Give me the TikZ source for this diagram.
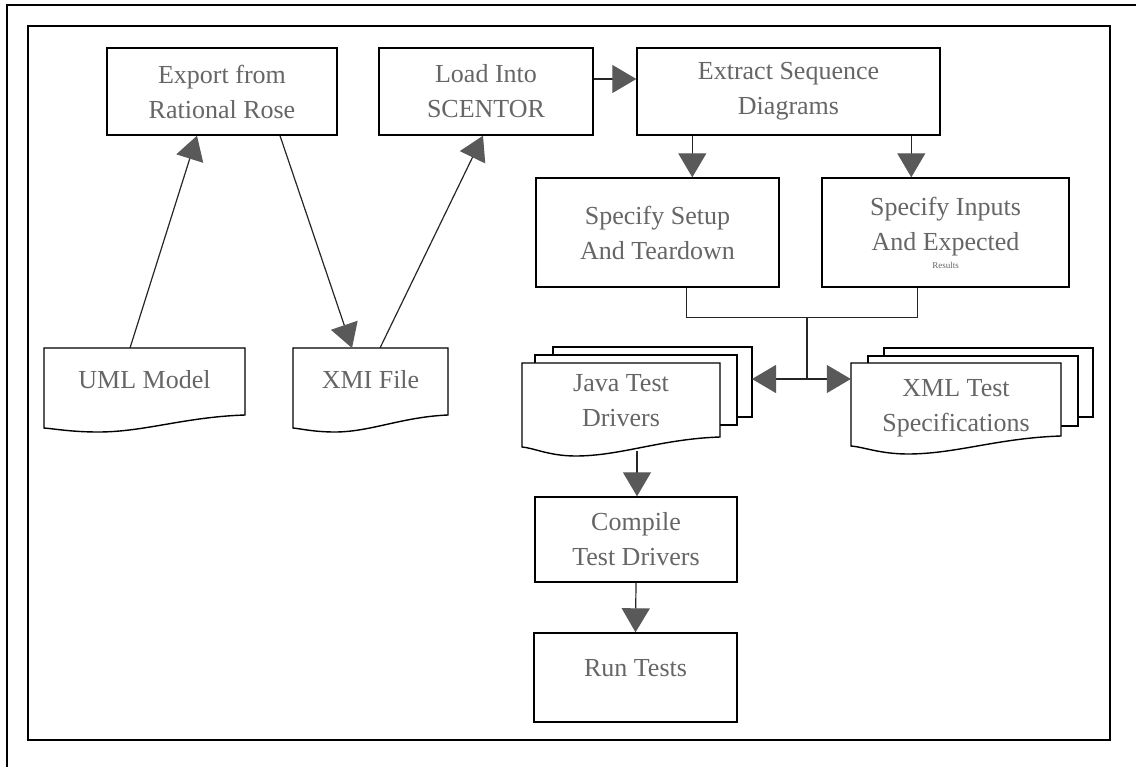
\documentclass[tikz,border=0pt]{standalone}
\usepackage{fontspec}
\setmainfont{Liberation Serif}
\usetikzlibrary{arrows.meta,calc}
\tikzset{
  procbox/.style={draw=black, line width=1.4pt, fill=white, text=black!60, align=center,
    font=\fontsize{26}{35}\selectfont, inner sep=0pt},
  doctext/.style={draw=none, text=black!60, align=center, anchor=north,
    font=\fontsize{26}{35}\selectfont, inner sep=0pt},
  docline/.style={draw=black, line width=1.4pt, fill=white},
  conn/.style={draw=black!85, line width=1.2pt},
  arr/.style={conn, -{Triangle[length=24pt,width=28pt,color=black!65]}},
  frame/.style={draw=black, line width=1.5pt}
}
% x1, ytop, x2, yleft, yright, ydip
\newcommand{\docwave}[6]{%
  \path[docline] (#1,#2) -- (#3,#2) -- (#3,#5)
    .. controls ({#3-0.3*(#3-#1)},{#5+2}) and ({#1+0.5*(#3-#1)},{#6}) .. ({#1+0.27*(#3-#1)},{#6})
    .. controls ({#1+0.14*(#3-#1)},{#6}) and ({#1+0.06*(#3-#1)},{#4+1}) .. (#1,#4) -- cycle;}
\begin{document}
\begin{tikzpicture}[x=1pt,y=-1pt]
\useasboundingbox (0,0) rectangle (1136,767);
% frames
\draw[frame] (1136,5) -- (7,5) -- (7,767);
\draw[frame] (28,26) rectangle (1110,740);

% process boxes
\node[procbox, minimum width=230, minimum height=87] (export) at (222,91.5) {Export from\\Rational Rose};
\node[procbox, minimum width=214, minimum height=87] (load) at (486,91.5) {Load Into\\SCENTOR};
\node[procbox, minimum width=303, minimum height=87] (extract) at (788.5,91.5) {Extract Sequence\\Diagrams};
\node[procbox, minimum width=243, minimum height=109] (setup) at (657.5,232.5) {\raisebox{10pt}{\parbox{200pt}{\centering Specify Setup\\And Teardown}}};
\node[procbox, minimum width=247, minimum height=109] (inputs) at (945.5,232.5) {Specify Inputs\\And Expected\\[-17pt]{\fontsize{9}{10}\selectfont Results}};
\node[procbox, minimum width=202, minimum height=85] (compile) at (636,539.5) {Compile\\Test Drivers};
\node[procbox, minimum width=203, minimum height=89] (run) at (635.5,677.5) {\raisebox{20pt}{Run Tests}};

% documents
\docwave{44}{348}{245}{428}{415}{432}
\node[doctext, minimum width=201, minimum height=62] (uml) at (144.5,348) {UML Model};
\docwave{293}{348}{448}{428}{415}{432}
\node[doctext, minimum width=155, minimum height=62] (xmi) at (370.5,348) {XMI File};

\path[docline] (553,347) rectangle (752,417);
\path[docline] (535,355) rectangle (737,425);
\docwave{522}{363}{720}{447}{437}{456}
\node[doctext, minimum width=198, minimum height=74] (java) at (621,363) {Java Test\\Drivers};

\path[docline] (884,348) rectangle (1093,417);
\path[docline] (868,356) rectangle (1078,426);
\docwave{851}{363}{1061}{446}{436}{454}
\node[doctext, minimum width=210, minimum height=90] (xml) at (956,363) {XML Test\\Specifications};

% connectors
\draw[arr] ($(uml.north)+(-14.5,0)$) -- ($(export.south)+(-25,0)$);
\draw[arr] ($(export.south)+(58,0)$) -- ($(xmi.north)+(-18.5,0)$);
\draw[arr] ($(xmi.north)+(9.5,0)$) -- ($(load.south)+(-3,0)$);
\draw[arr] ($(load.east)+(0,-12.5)$) -- ($(extract.west)+(0,-12.5)$);
\draw[arr] ($(extract.south west)+(56,0)$) -- ($(setup.north west)+(157,0)$);
\draw[arr] ($(extract.south west)+(275,0)$) -- ($(inputs.north west)+(90,0)$);

\draw[conn] ($(setup.south west)+(151,0)$) |- ($(inputs.south west)+(96,30)$) -- ($(inputs.south west)+(96,0)$);
\coordinate (j1) at (807,317);
\coordinate (j2) at (807,379);
\coordinate (javaback) at (752,379);
\draw[conn] (j1) -- (j2);
\draw[arr] (j2) -- (javaback);
\draw[arr] (j2) -- ($(xml.north west)+(0,16)$);

\coordinate (javabottom) at (637,451);
\draw[arr] (javabottom) -- ($(compile.north)+(1,0)$);
\draw[arr] (compile.south) -- (run.north);
\end{tikzpicture}
\end{document}
